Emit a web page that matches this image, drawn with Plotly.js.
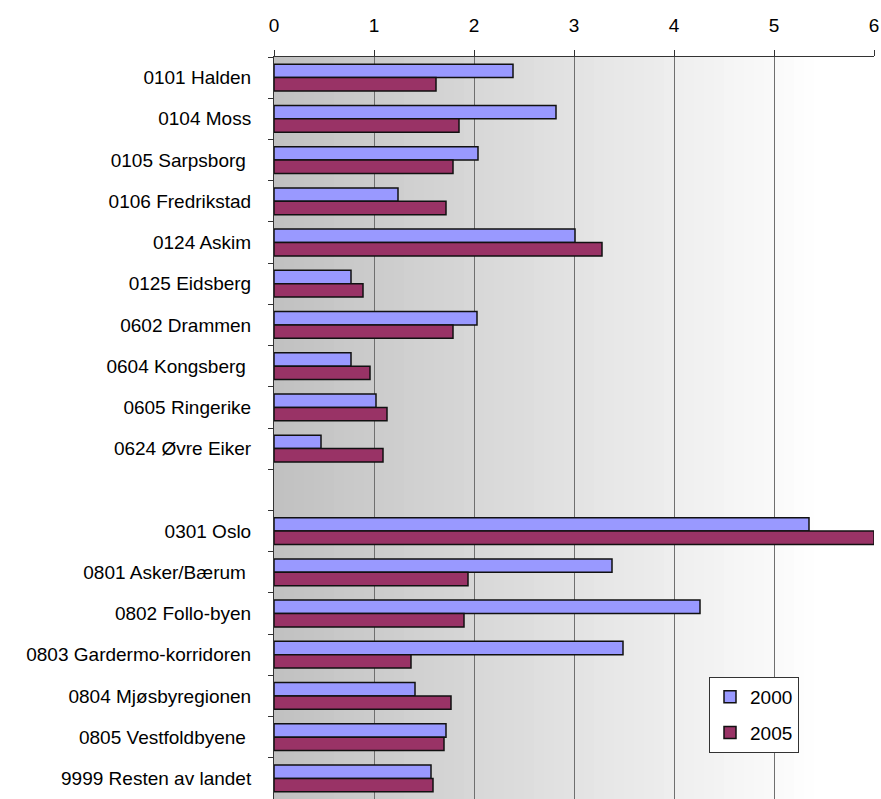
<!DOCTYPE html>
<html>
<head>
<meta charset="utf-8">
<script src="https://cdn.plot.ly/plotly-3.0.1.min.js"></script>
<style>html,body{margin:0;padding:0;background:#fff;}#chart{width:881px;height:799px;}</style>
</head>
<body>
<div id="chart"></div>
<script>
const categories = [
  "0101 Halden", "0104 Moss", "0105 Sarpsborg ", "0106 Fredrikstad", "0124 Askim",
  "0125 Eidsberg", "0602 Drammen", "0604 Kongsberg ", "0605 Ringerike", "0624 Øvre Eiker",
  "  ",
  "0301 Oslo", "0801 Asker/Bærum ", "0802 Follo-byen", "0803 Gardermo-korridoren",
  "0804 Mjøsbyregionen", "0805 Vestfoldbyene ", "9999 Resten av landet"
];
const values2000 = [2.39, 2.82, 2.04, 1.24, 3.01, 0.77, 2.03, 0.77, 1.02, 0.47, null,
  5.35, 3.38, 4.26, 3.49, 1.41, 1.72, 1.57];
const values2005 = [1.62, 1.85, 1.79, 1.72, 3.28, 0.89, 1.79, 0.96, 1.13, 1.09, null,
  6.00, 1.94, 1.90, 1.37, 1.77, 1.70, 1.59];
const seriesNames = ["2000", "2005"];
const xTicks = [0, 1, 2, 3, 4, 5, 6];

const font = {family: "Arial, 'Liberation Sans', sans-serif", size: 19, color: "#000"};

const traces = [
  {type: "bar", orientation: "h", name: seriesNames[0], y: categories, x: values2000,
   marker: {color: "#9999FF", line: {color: "#111", width: 1.5}}, legendgroup: "a"},
  {type: "bar", orientation: "h", name: seriesNames[1], y: categories, x: values2005,
   marker: {color: "#993366", line: {color: "#111", width: 1.5}}, legendgroup: "b"}
];

// background gradient bands (decoration)
const shapes = [];
const nBands = 60, gEnd = 0.91;
for (let i = 0; i < nBands; i++) {
  const x0 = i / nBands, x1 = (i + 1) / nBands;
  const mid = (x0 + x1) / 2;
  const t = Math.min(mid / gEnd, 1);
  const g = Math.round(192 + (255 - 192) * t);
  shapes.push({type: "rect", xref: "paper", yref: "paper", x0: x0, x1: x1 + 0.001, y0: 0, y1: 1,
    fillcolor: `rgb(${g},${g},${g})`, line: {width: 0}, layer: "below"});
}

const layout = {
  width: 881, height: 799,
  margin: {l: 274, r: 7, t: 57, b: 0},
  paper_bgcolor: "#fff", plot_bgcolor: "#fff",
  font: font,
  barmode: "group", bargap: 0.35, bargroupgap: 0,
  showlegend: true,
  legend: {x: 0.725, y: 0.1644, xanchor: "left", yanchor: "top",
    bgcolor: "#fff", bordercolor: "#333", borderwidth: 1,
    font: {family: font.family, size: 19, color: "#000"},
    tracegroupgap: 8, itemwidth: 30},
  xaxis: {side: "top", range: [0, 6], tickvals: xTicks, ticktext: xTicks.map(String),
    showgrid: true, gridcolor: "#6f6f6f", gridwidth: 1, zeroline: false,
    showline: true, linecolor: "#333", linewidth: 1,
    ticks: "outside", ticklen: 6, tickcolor: "#333", ticklabelstandoff: 10,
    tickfont: font, fixedrange: true},
  yaxis: {type: "category", categoryorder: "array", categoryarray: categories,
    range: [categories.length - 0.5, -0.5],
    showline: true, linecolor: "#333", linewidth: 1,
    ticks: "outside", tickson: "boundaries", ticklen: 5, tickcolor: "#333",
    ticklabelstandoff: 18, showgrid: false, zeroline: false,
    tickfont: font, fixedrange: true},
  shapes: shapes
};

Plotly.newPlot("chart", traces, layout, {displayModeBar: false, staticPlot: true});
</script>
</body>
</html>
